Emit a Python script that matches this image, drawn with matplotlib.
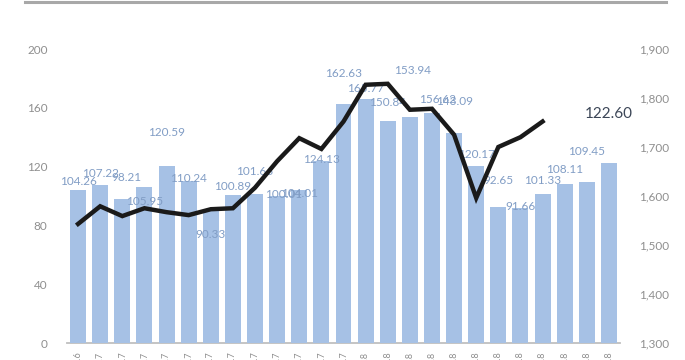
import numpy as np
import matplotlib
matplotlib.use("Agg")
import matplotlib.pyplot as plt
from matplotlib.lines import Line2D

plt.rcParams['font.family'] = ['Lato', 'DejaVu Sans']

months = ["Dec-16", "Jan-17", "Feb-17", "Mar-17", "Apr-17", "May-17", "Jun-17",
          "Jul-17", "Aug-17", "Sep-17", "Oct-17", "Nov-17", "Dec-17",
          "Jan-18", "Feb-18", "Mar-18", "Apr-18", "May-18", "Jun-18",
          "Jul-18", "Aug-18", "Sep-18", "Oct-18", "Nov-18", "Dec-18"]
bar_values = [104.26, 107.22, 98.21, 105.95, 120.59, 110.24, 90.33, 100.89,
              101.66, 100.01, 104.01, 124.13, 162.63, 165.77, 150.84, 153.94,
              156.62, 143.09, 120.17, 92.65, 91.66, 101.33, 108.11, 109.45, 122.60]
line_values = [1543, 1579, 1559, 1575, 1567, 1561, 1573, 1575, 1617, 1671,
               1718, 1696, 1752, 1827, 1829, 1776, 1778, 1725, 1596, 1700,
               1720, 1752, np.nan, np.nan, np.nan]

# label placement (style only): vertical position of each value label, in left-axis units
label_pos = [110, 115, 112.5, 96, 143, 112, 73.5, 106.3, 117, 100.7, 101.8, 125,
             183, 173, 163.7, 185.7, 165.8, 164, 128, 110.4, 92.7, 110.4, 118, 130, 155.8]
label_dx = [0, 0, 0.2, 0, 0, 0, 0, 0, 0, 0.3, 0, 0, 0, 0, 0, 0.1, 0.25, 0, 0,
            0, 0, 0, 0, 0, 0]

W, H = 685, 360
fig = plt.figure(figsize=(W / 100, H / 100), dpi=100)
ax = fig.add_axes([67 / W, 1 - 343 / H, (620 - 67) / W, (343 - 49) / H])
ax2 = ax.twinx()

x = np.arange(len(months))
bar_color = "#a6c1e5"
ax.bar(x, bar_values, width=0.72, color=bar_color, zorder=1)
ax.set_ylim(0, 200)
ax.set_xlim(-0.5, len(months) - 0.5)
ax.set_yticks(np.arange(0, 201, 40))

ax2.plot(x, line_values, color="#1a1a1a", lw=3.2, solid_joinstyle="miter", zorder=5)
ax2.set_ylim(1300, 1900)
ax2.set_yticks(np.arange(1300, 1901, 100))
ax2.set_yticklabels([f"{v:,}" for v in range(1300, 1901, 100)])

for i, v in enumerate(bar_values):
    if i == len(bar_values) - 1:
        ax.text(x[i] + label_dx[i], label_pos[i], f"{v:.2f}", ha="center", va="center",
                fontsize=11, color="#3c4657", zorder=3)
    else:
        ax.text(x[i] + label_dx[i], label_pos[i], f"{v:.2f}", ha="center", va="center",
                fontsize=8.5, color="#819dc5", zorder=3)

ax.set_xticks(x)
ax.set_xticklabels(months, rotation=90, fontsize=6.5, color="#8c8c8c", va="top")

for a in (ax, ax2):
    for s in a.spines.values():
        s.set_visible(False)
ax.spines['bottom'].set_visible(True)
ax.spines['bottom'].set_color("#bfbfbf")
ax.spines['bottom'].set_linewidth(1.3)
ax.spines['bottom'].set_zorder(0)

for a in (ax, ax2):
    a.tick_params(axis='y', length=0, pad=14, labelsize=8.5, labelcolor="#8f8f8f")
ax.tick_params(axis='x', length=0, pad=6.2)

ax2.set_zorder(ax.get_zorder() + 1)
ax2.patch.set_visible(False)

# top gray rule
fig.add_artist(Line2D([25 / W, 666 / W], [1 - 1.5 / H, 1 - 1.5 / H],
                      transform=fig.transFigure, color="#a8a8a8", lw=2.2))

fig.savefig("out.png", dpi=100)
